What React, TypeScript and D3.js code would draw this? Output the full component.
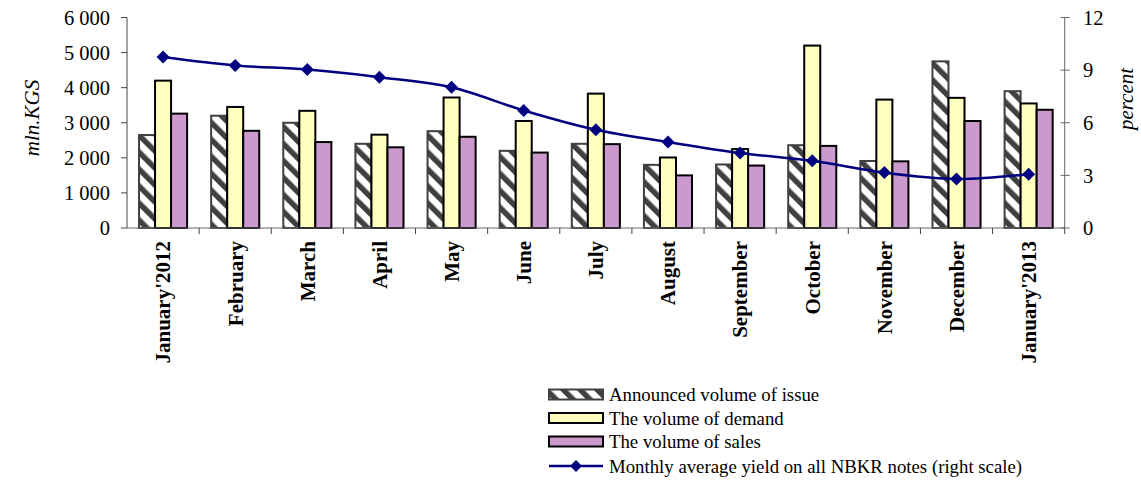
import React from "react";
import * as d3 from "d3";

const months = ["January'2012", "February", "March", "April", "May", "June", "July", "August", "September", "October", "November", "December", "January'2013"];
const issue = [2650, 3200, 3000, 2400, 2760, 2200, 2400, 1800, 1810, 2360, 1910, 4750, 3900];
const demand = [4200, 3450, 3340, 2660, 3720, 3050, 3830, 2010, 2250, 5200, 3660, 3710, 3550];
const sales = [3260, 2770, 2450, 2300, 2600, 2150, 2390, 1500, 1780, 2340, 1900, 3050, 3370];
const yieldPct = [9.75, 9.27, 9.03, 8.6, 8.02, 6.7, 5.6, 4.9, 4.27, 3.83, 3.16, 2.8, 3.07];
const leftTicks = [0, 1000, 2000, 3000, 4000, 5000, 6000];
const rightTicks = [0, 3, 6, 9, 12];
const seriesNames = ["Announced volume of issue", "The volume of demand", "The volume of sales", "Monthly average yield on all NBKR notes (right scale)"];

const W = 1141, H = 480;
const L = 127, R = 1064.7, T = 17.5, B = 228;
const FONT = "'Liberation Serif', 'Times New Roman', serif";

export default function App() {
  const x = d3.scaleBand<string>().domain(months).range([L, R]).paddingInner(1 / 3).paddingOuter(1 / 6);
  const xs = d3.scaleBand<string>().domain(["issue", "demand", "sales"]).range([0, x.bandwidth()]);
  const yL = d3.scaleLinear().domain([0, 6000]).range([B, T]);
  const yR = d3.scaleLinear().domain([0, 12]).range([B, T]);
  const step = x.step();
  const fmt = (v: number) => d3.format(",")(v).replace(/,/g, "\u00a0");
  const cx = (m: string) => (x(m) as number) + x.bandwidth() / 2;

  const series = [
    { key: "issue", vals: issue, fill: "url(#hatch)", stroke: "#404040" },
    { key: "demand", vals: demand, fill: "#FFFFC0", stroke: "#000" },
    { key: "sales", vals: sales, fill: "#CC99CC", stroke: "#000" },
  ];

  const line = d3.line<number>()
    .x((_, i) => cx(months[i]))
    .y((d) => yR(d))
    .curve(d3.curveCatmullRom.alpha(0));

  const diamond = (px: number, py: number, r: number) => `M${px},${py - r}L${px + r},${py}L${px},${py + r}L${px - r},${py}Z`;

  const legendX = 549, legendW = 54, legendTextX = 609;
  const legendY = [394.5, 418, 441.5, 466];

  return (
    <svg width={W} height={H} style={{ position: "absolute", left: 0, top: 0, background: "#fff" }} fontFamily={FONT}>
      <defs>
        <pattern id="hatch" patternUnits="userSpaceOnUse" width={12} height={12} patternTransform="rotate(-45)">
          <rect x={0} y={0} width={12} height={12} fill="#fff" />
          <rect x={0} y={0} width={5.5} height={12} fill="#404040" />
        </pattern>
      </defs>

      {/* bars */}
      {series.map((s) => (
        <g key={s.key}>
          {s.vals.map((v, i) => (
            <rect key={i}
              x={(x(months[i]) as number) + (xs(s.key) as number)}
              y={yL(v)}
              width={xs.bandwidth()}
              height={B - yL(v)}
              fill={s.fill}
              stroke={s.stroke}
              strokeWidth={2}
            />
          ))}
        </g>
      ))}

      {/* left axis */}
      <line x1={L} x2={L} y1={T} y2={B} stroke="#444" strokeWidth={1} />
      {leftTicks.map((t) => (
        <g key={t}>
          <line x1={L - 6} x2={L} y1={yL(t)} y2={yL(t)} stroke="#444" />
          <text x={110} y={yL(t)} dy="0.35em" textAnchor="end" fontSize={20.5}>{fmt(t)}</text>
        </g>
      ))}
      {/* right axis */}
      <line x1={R} x2={R} y1={T} y2={B} stroke="#666" strokeWidth={1} />
      {rightTicks.map((t) => (
        <g key={t}>
          <line x1={R - 4} x2={R + 5} y1={yR(t)} y2={yR(t)} stroke="#666" />
          <text x={1083} y={yR(t)} dy="0.35em" textAnchor="start" fontSize={20.5}>{t}</text>
        </g>
      ))}
      {/* bottom axis */}
      <line x1={L} x2={R} y1={B} y2={B} stroke="#666" strokeWidth={1} />
      {months.map((m, i) => (
        <line key={m} x1={L + step * (i + 1)} x2={L + step * (i + 1)} y1={B} y2={B + 6} stroke="#444" />
      ))}
      {months.map((m) => (
        <text key={m} transform={`translate(${cx(m)},${241}) rotate(-90)`} dy="0.35em" textAnchor="end" fontSize={21} fontWeight="bold">{m}</text>
      ))}

      {/* axis titles */}
      <text transform={`translate(32,118) rotate(-90)`} dy="0.35em" textAnchor="middle" fontSize={21} fontStyle="italic">mln.KGS</text>
      <text transform={`translate(1126,99) rotate(-90)`} dy="0.35em" textAnchor="middle" fontSize={21} fontStyle="italic">percent</text>

      {/* yield line */}
      <path d={line(yieldPct) || ""} fill="none" stroke="#000080" strokeWidth={2.5} />
      {yieldPct.map((v, i) => (
        <path key={i} d={diamond(cx(months[i]), yR(v), 6.5)} fill="#000080" />
      ))}

      {/* legend */}
      <rect x={legendX} y={legendY[0] - 5} width={legendW} height={10} fill="url(#hatch)" stroke="#404040" strokeWidth={2} />
      <rect x={legendX} y={legendY[1] - 5} width={legendW} height={10} fill="#FFFFC0" stroke="#000" strokeWidth={2} />
      <rect x={legendX} y={legendY[2] - 5} width={legendW} height={10} fill="#CC99CC" stroke="#000" strokeWidth={2} />
      <line x1={legendX} x2={legendX + legendW} y1={legendY[3]} y2={legendY[3]} stroke="#000080" strokeWidth={2.5} />
      <path d={diamond(legendX + legendW / 2, legendY[3], 6)} fill="#000080" />
      {seriesNames.map((n, i) => (
        <text key={n} x={legendTextX} y={legendY[i]} dy="0.35em" fontSize={18.8}>{n}</text>
      ))}
    </svg>
  );
}
